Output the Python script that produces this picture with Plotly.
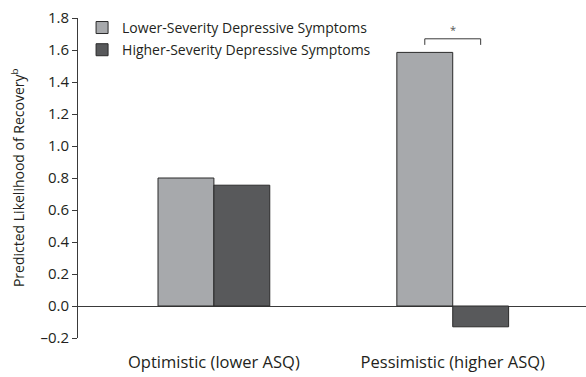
import plotly.graph_objects as go

categories = ["Optimistic (lower ASQ)", "Pessimistic (higher ASQ)"]
series_names = ["Lower-Severity Depressive Symptoms", "Higher-Severity Depressive Symptoms"]
lower_severity = [0.80, 1.585]
higher_severity = [0.755, -0.13]
y_tick_vals = [-0.2, 0.0, 0.2, 0.4, 0.6, 0.8, 1.0, 1.2, 1.4, 1.6, 1.8]
y_tick_text = ["–0.2", "0.0", "0.2", "0.4", "0.6", "0.8", "1.0", "1.2", "1.4", "1.6", "1.8"]

TXT = "#231f20"
FONT = "Open Sans"
colors = ["#a7a9ac", "#58595b"]

fig = go.Figure()
for i, (name, vals, c) in enumerate(zip(series_names, [lower_severity, higher_severity], colors)):
    fig.add_trace(go.Bar(
        x=categories, y=vals, name=name, legendgroup=f"g{i}",
        marker=dict(color=c, line=dict(color="#2a2a2a", width=1)),
    ))

fig.update_layout(
    width=586, height=377,
    margin=dict(l=78, r=0, t=18, b=39),
    plot_bgcolor="white", paper_bgcolor="white",
    font=dict(family=FONT, size=15, color=TXT),
    barmode="group", bargap=0.532, bargroupgap=0,
    showlegend=True,
    legend=dict(x=0.008, y=1.019, xanchor="left", yanchor="top",
                font=dict(size=14, color=TXT), bgcolor="rgba(0,0,0,0)",
                itemwidth=30, tracegroupgap=1),
    xaxis=dict(range=[-0.569, 1.558], showline=False, showgrid=False,
               zeroline=False, ticks="", ticklabelstandoff=12,
               tickfont=dict(size=16.5, color=TXT)),
    yaxis=dict(range=[-0.2, 1.8], tickvals=y_tick_vals, ticktext=y_tick_text,
               showgrid=False, showline=True, linecolor="#3a3a3a", linewidth=1,
               ticks="outside", ticklen=5, tickcolor="#3a3a3a",
               zeroline=True, zerolinecolor="#3a3a3a", zerolinewidth=1,
               tickfont=dict(size=15, color=TXT)),
)

fig.add_annotation(
    xref="paper", yref="paper", x=-0.118, y=0.5, showarrow=False,
    text="Predicted Likelihood of Recovery<sup>b</sup>", textangle=-90,
    font=dict(size=14, color=TXT), xanchor="center", yanchor="middle",
)

# significance bracket between the two Pessimistic bars
half = (1 - 0.532) / 4
top = max(lower_severity[1], higher_severity[1])
yb = top + 0.085
fig.add_shape(type="path", xref="x", yref="y",
              path=f"M {1-half},{yb-0.038} L {1-half},{yb} L {1+half},{yb} L {1+half},{yb-0.038}",
              line=dict(color="#3a3a3a", width=1))
fig.add_annotation(x=1, y=yb + 0.06, xref="x", yref="y", text="*", showarrow=False,
                   font=dict(size=11, color="#555"))

fig.write_html("out.html", config={"displayModeBar": False},
               post_script="document.body.style.margin='0';")
